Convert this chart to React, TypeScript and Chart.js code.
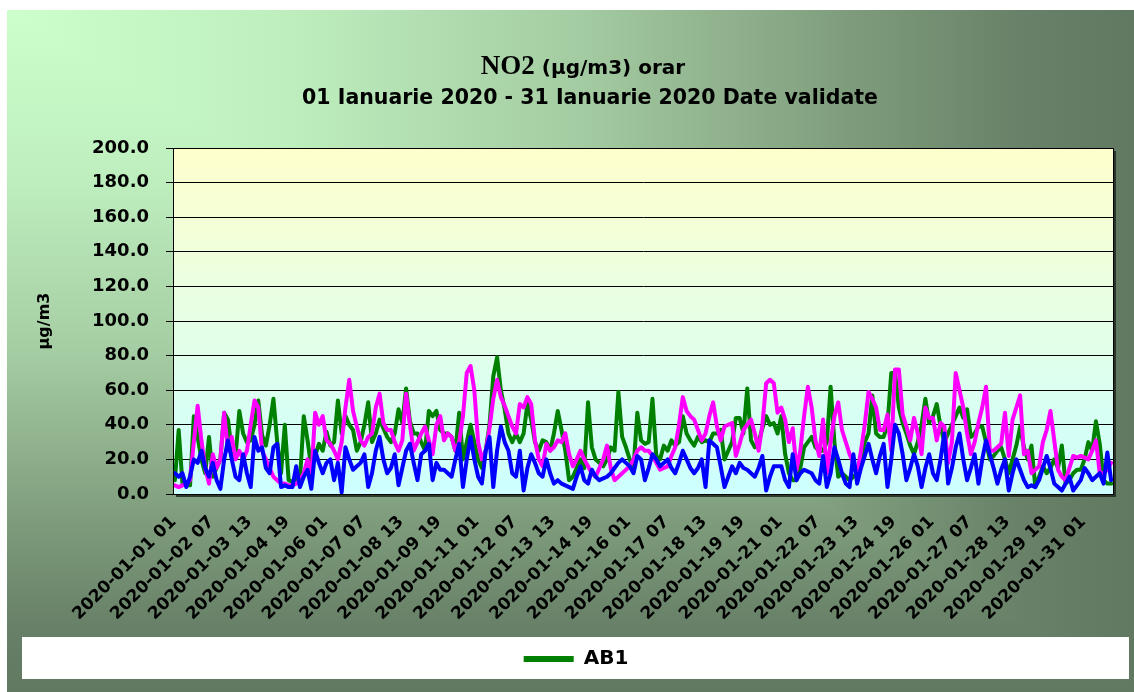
import { useEffect, useRef } from "react";
import { Chart, registerables } from "chart.js";

Chart.register(...registerables);

// hourly data sampled every 3 hours (index i -> hour 3*i+1 of January 2020)
const STEP_HOURS = 3;

const AB1 = [
  8, 37, 6, 5, 5, 45, 33, 20, 12, 33,
  10, 15, 20, 47, 43, 25, 22, 48, 35, 30,
  31, 40, 54, 34, 28, 40, 55, 30, 12, 40,
  8, 7, 8, 8, 45, 31, 15, 22, 29, 25,
  36, 28, 30, 54, 35, 45, 40, 37, 25, 30,
  40, 53, 30, 35, 43, 38, 33, 30, 35, 49,
  41, 61, 42, 35, 35, 30, 25, 48, 45, 48,
  37, 35, 35, 33, 25, 47, 20, 30, 40, 30,
  20, 15, 25, 40, 68, 79, 60, 49, 35, 30,
  35, 30, 35, 52, 43, 30, 25, 31, 30, 25,
  35, 48, 37, 25, 8, 10, 15, 20, 15, 53,
  27, 20, 18, 16, 20, 27, 25, 59, 33, 27,
  20, 15, 47, 31, 29, 30, 55, 22, 20, 28,
  25, 31, 28, 30, 45, 35, 31, 28, 33, 30,
  31, 30, 35, 35, 37, 20, 25, 30, 44, 44,
  35, 61, 31, 27, 30, 38, 45, 40, 41, 35,
  45, 23, 12, 8, 8, 15, 27, 30, 33, 27,
  25, 25, 30, 62, 30, 10, 12, 10, 8, 10,
  12, 20, 30, 35, 57, 35, 33, 33, 40, 70,
  70, 50, 41, 35, 28, 23, 30, 40, 55, 41,
  45, 52, 39, 30, 35, 40, 45, 50, 44, 49,
  33, 35, 39, 39, 30, 20, 22, 25, 27, 20,
  12, 20, 28, 39, 27, 20, 28, 4, 10, 16,
  12, 15, 20, 15, 28, 6, 8, 12, 14, 14,
  20, 30, 25, 42, 29, 8, 6, 6,
];

const AB2 = [
  5, 4, 5, 6, 8, 30, 51, 31, 15, 6,
  23, 15, 20, 47, 25, 33, 20, 25, 20, 25,
  40, 54, 50, 25, 20, 15, 10, 8, 6, 6,
  5, 5, 6, 8, 12, 20, 10, 47, 40, 45,
  31, 29, 25, 20, 30, 50, 66, 48, 39, 31,
  28, 33, 35, 50, 58, 41, 37, 37, 30, 25,
  31, 58, 40, 25, 30, 35, 39, 31, 23, 40,
  45, 31, 35, 33, 25, 30, 45, 70, 74, 60,
  30, 20, 25, 38, 55, 66, 56, 51, 45, 39,
  35, 52, 50, 56, 52, 31, 20, 16, 29, 25,
  27, 31, 30, 35, 23, 16, 20, 25, 20, 16,
  12, 10, 15, 20, 28, 15, 8, 10, 12, 14,
  16, 20, 25, 27, 25, 25, 22, 18, 14, 15,
  16, 22, 27, 40, 56, 48, 45, 43, 37, 31,
  35, 45, 53, 39, 31, 39, 40, 41, 22, 29,
  37, 40, 43, 35, 25, 40, 64, 66, 64, 47,
  50, 43, 30, 38, 14, 25, 45, 62, 50, 31,
  22, 43, 12, 30, 45, 53, 37, 30, 23, 18,
  12, 25, 40, 59, 55, 50, 37, 37, 46, 25,
  72, 72, 46, 39, 31, 44, 35, 23, 50, 44,
  44, 31, 41, 39, 18, 30, 70, 60, 50, 35,
  23, 30, 41, 50, 62, 25, 25, 27, 29, 47,
  22, 43, 50, 57, 23, 25, 12, 14, 16, 30,
  37, 48, 31, 14, 10, 8, 15, 22, 21, 22,
  21, 20, 25, 31, 12, 12, 14, 18,
];

const AB3 = [
  12, 10, 12, 4, 10, 20, 18, 25, 15, 10,
  18, 8, 3, 20, 31, 20, 10, 8, 23, 12,
  4, 33, 25, 27, 15, 12, 27, 29, 4, 5,
  4, 4, 16, 4, 10, 14, 3, 25, 18, 12,
  18, 20, 8, 18, 1, 27, 20, 14, 16, 18,
  23, 4, 12, 25, 33, 20, 12, 15, 23, 5,
  15, 25, 29, 18, 8, 23, 25, 29, 8, 18,
  14, 14, 12, 10, 20, 29, 4, 20, 33, 20,
  10, 6, 25, 33, 4, 25, 39, 30, 25, 12,
  10, 25, 2, 15, 23, 18, 12, 10, 20, 12,
  6, 8, 6, 5, 4, 3, 10, 16, 8, 6,
  14, 10, 8, 9, 10, 12, 15, 18, 20, 18,
  16, 12, 22, 20, 8, 15, 23, 20, 16, 18,
  20, 15, 12, 18, 25, 20, 15, 12, 15, 20,
  4, 31, 29, 27, 16, 4, 10, 16, 12, 18,
  15, 14, 12, 10, 15, 22, 2, 10, 16, 16,
  16, 8, 4, 23, 8, 12, 14, 13, 12, 8,
  6, 22, 4, 12, 27, 20, 12, 6, 4, 23,
  6, 15, 22, 29, 20, 12, 22, 29, 4, 20,
  40, 35, 23, 8, 15, 23, 16, 4, 15, 23,
  12, 8, 20, 35, 6, 15, 27, 35, 20, 8,
  15, 23, 6, 20, 31, 23, 15, 6, 14, 20,
  2, 12, 20, 14, 8, 4, 5, 4, 8, 15,
  22, 15, 6, 4, 2, 6, 10, 2, 5, 8,
  15, 12, 8, 10, 12, 6, 24, 8,
];

const SERIES_NAMES = ["AB1", "AB2", "AB3"];
const SERIES_COLORS = ["#008000", "#FF00FF", "#0000FF"];

const TICK_HOURS = [
  0, 30, 60, 90, 120, 150, 180, 210, 240, 270, 300, 330, 360,
  390, 420, 450, 480, 510, 540, 570, 600, 630, 660, 690, 720,
];
const TICK_LABELS = [
  "2020-01-01 01", "2020-01-02 07", "2020-01-03 13", "2020-01-04 19",
  "2020-01-06 01", "2020-01-07 07", "2020-01-08 13", "2020-01-09 19",
  "2020-01-11 01", "2020-01-12 07", "2020-01-13 13", "2020-01-14 19",
  "2020-01-16 01", "2020-01-17 07", "2020-01-18 13", "2020-01-19 19",
  "2020-01-21 01", "2020-01-22 07", "2020-01-23 13", "2020-01-24 19",
  "2020-01-26 01", "2020-01-27 07", "2020-01-28 13", "2020-01-29 19",
  "2020-01-31 01",
];
const TOTAL_HOURS = 744;

const TITLE_A = "NO2";
const TITLE_B = " (µg/m3) orar";
const SUBTITLE = "01 Ianuarie 2020 - 31 Ianuarie 2020 Date validate";

const W = 1127;
const H = 682;

const toPoints = (arr: number[]) =>
  arr.map((y, i) => ({ x: i * STEP_HOURS + 1, y }));

const addBgStops = (g: CanvasGradient) => {
  g.addColorStop(0, "rgb(204,255,204)");
  g.addColorStop(0.25, "rgb(190,238,190)");
  g.addColorStop(0.5, "rgb(165,205,163)");
  g.addColorStop(0.75, "rgb(126,156,124)");
  g.addColorStop(0.9, "rgb(104,129,104)");
  g.addColorStop(1, "rgb(97,120,97)");
};

const decorPlugin = {
  id: "decor",
  afterLayout(chart: any) {
    const lg = chart.legend;
    if (lg) {
      lg.left += 16;
      lg.right += 16;
    }
  },
  beforeDraw(chart: any) {
    const { ctx, chartArea: a } = chart;
    const cw = chart.width;
    const ch = chart.height;
    ctx.save();
    // "from corner" rectangular gradient
    const gv = ctx.createLinearGradient(0, 0, 0, ch);
    addBgStops(gv);
    ctx.fillStyle = gv;
    ctx.fillRect(0, 0, cw, ch);
    ctx.save();
    ctx.beginPath();
    ctx.moveTo(0, 0);
    ctx.lineTo(cw, 0);
    ctx.lineTo(cw, ch);
    ctx.closePath();
    ctx.clip();
    const gh = ctx.createLinearGradient(0, 0, cw, 0);
    addBgStops(gh);
    ctx.fillStyle = gh;
    ctx.fillRect(0, 0, cw, ch);
    ctx.restore();

    // legend white box
    const lg = chart.legend;
    if (lg) {
      ctx.fillStyle = "#ffffff";
      ctx.fillRect(15, lg.top, cw - 20, lg.bottom - lg.top);
    }

    // plot area shadow + fill
    ctx.fillStyle = "rgba(35,45,35,0.9)";
    ctx.fillRect(a.left + 3, a.top + 3, a.right - a.left, a.bottom - a.top);
    const pg = ctx.createLinearGradient(0, a.top, 0, a.bottom);
    pg.addColorStop(0, "#ffffcc");
    pg.addColorStop(1, "#ccffff");
    ctx.fillStyle = pg;
    ctx.fillRect(a.left, a.top, a.right - a.left, a.bottom - a.top);

    // titles
    ctx.fillStyle = "#000";
    ctx.textBaseline = "alphabetic";
    ctx.textAlign = "left";
    const fA = 'bold 27px "Liberation Serif"';
    const fB = 'bold 20px "DejaVu Sans"';
    ctx.font = fA;
    const wA = ctx.measureText(TITLE_A).width;
    ctx.font = fB;
    const wB = ctx.measureText(TITLE_B).width;
    const cx = 576;
    const x0 = cx - (wA + wB) / 2;
    ctx.font = fA;
    ctx.fillText(TITLE_A, x0, 64);
    ctx.font = fB;
    ctx.fillText(TITLE_B, x0 + wA, 64);
    ctx.textAlign = "center";
    ctx.font = 'bold 20.5px "DejaVu Sans"';
    ctx.fillText(SUBTITLE, 583, 94);
    ctx.restore();
  },
  afterDatasetsDraw(chart: any) {
    const { ctx, chartArea: a } = chart;
    ctx.save();
    ctx.strokeStyle = "#000";
    ctx.lineWidth = 1;
    ctx.strokeRect(a.left + 0.5, a.top + 0.5, a.right - a.left, a.bottom - a.top);
    ctx.restore();
  },
};

export default function App() {
  const ref = useRef<HTMLCanvasElement | null>(null);

  useEffect(() => {
    document.body.style.margin = "0";
    document.body.style.overflow = "hidden";
    if (!ref.current) return;
    const series = [AB1, AB2, AB3];
    const chart = new Chart(ref.current, {
      type: "line",
      data: {
        datasets: series.map((arr, k) => ({
          label: SERIES_NAMES[k],
          data: toPoints(arr),
          borderColor: SERIES_COLORS[k],
          backgroundColor: SERIES_COLORS[k],
          borderWidth: 4,
          pointRadius: 0,
          pointHoverRadius: 0,
          tension: 0,
          fill: false,
          borderJoinStyle: "round" as const,
          borderCapStyle: "round" as const,
          order: 3 - k,
        })),
      },
      options: {
        animation: false,
        responsive: false,
        devicePixelRatio: 1,
        events: [],
        layout: { padding: { top: 138, left: 0, right: 21, bottom: 13 } },
        scales: {
          x: {
            type: "linear",
            min: -0.5,
            max: TOTAL_HOURS - 0.5,
            afterBuildTicks: (axis: any) => {
              axis.ticks = TICK_HOURS.map((v) => ({ value: v }));
            },
            afterFit: (axis: any) => {
              axis.height = 143;
            },
            grid: { display: false, drawTicks: false },
            border: { display: true, color: "#000", width: 1 },
            ticks: {
              autoSkip: false,
              minRotation: 45,
              maxRotation: 45,
              padding: 18,
              color: "#000",
              font: { family: "DejaVu Sans", size: 17, weight: "bold" },
              callback: (value: any) => TICK_LABELS[TICK_HOURS.indexOf(Number(value))],
            },
          },
          y: {
            min: 0,
            max: 200,
            afterFit: (axis: any) => {
              axis.width = 166;
            },
            grid: { color: "#000", lineWidth: 1, tickLength: 7, drawTicks: true },
            border: { display: true, color: "#000", width: 1 },
            ticks: {
              stepSize: 20,
              padding: 17,
              color: "#000",
              font: { family: "DejaVu Sans", size: 18, weight: "bold" },
              callback: (v: any) => Number(v).toFixed(1),
            },
            title: {
              display: true,
              text: "µg/m3",
              color: "#000",
              font: { family: "DejaVu Sans", size: 16, weight: "bold" },
              padding: { top: 28, bottom: 0 },
            },
          },
        },
        plugins: {
          title: { display: false },
          tooltip: { enabled: false },
          legend: {
            display: true,
            position: "bottom",
            labels: {
              color: "#000",
              font: { family: "DejaVu Sans", size: 20, weight: "bold" },
              boxWidth: 50,
              boxHeight: 6,
              padding: 12,
              generateLabels: (c: any) =>
                Chart.defaults.plugins.legend.labels
                  .generateLabels(c)
                  .filter((l: any) => l.datasetIndex === 0)
                  .map((l: any) => ({ ...l, lineWidth: 0 })),
            },
          },
        },
      },
      plugins: [decorPlugin],
    } as any);
    return () => chart.destroy();
  }, []);

  return (
    <div style={{ position: "absolute", left: 7, top: 10, width: W, height: H }}>
      <canvas ref={ref} width={W} height={H} style={{ display: "block" }} />
    </div>
  );
}
